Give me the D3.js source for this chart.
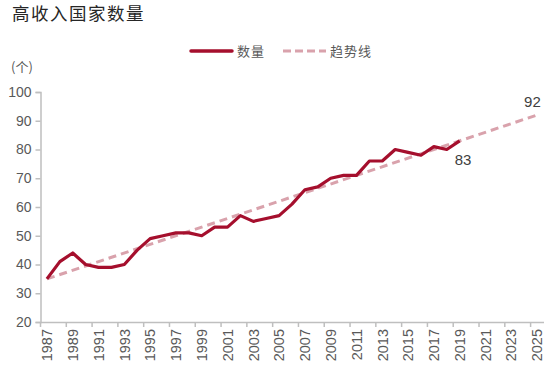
<!DOCTYPE html>
<html>
<head>
<meta charset="utf-8">
<script src="https://cdn.jsdelivr.net/npm/d3@7/dist/d3.min.js"></script>
<style>
  html, body { margin: 0; padding: 0; background: #ffffff; }
  svg { display: block; }
</style>
</head>
<body>
<svg id="chart" width="550" height="366"></svg>
<script>
// ---- data ----
const years = d3.range(1987, 2026); // category axis 1987..2025
const countYears = d3.range(1987, 2020);
const countValues = [35, 41, 44, 40, 39, 39, 40, 45, 49, 50, 51, 51, 50, 53, 53, 57, 55, 56, 57, 61, 66, 67, 70, 71, 71, 76, 76, 80, 79, 78, 81, 80, 83];
const trendYears = [1987, 2025];
const trendValues = [35, 92];
const yTicks = [20, 30, 40, 50, 60, 70, 80, 90, 100];
const xTickLabels = years.filter((d, i) => i % 2 === 0);
const seriesNames = ["数量", "趋势线"];
const titleText = "高收入国家数量";
const unitText = "(个)";

// ---- layout ----
const svg = d3.select("#chart");
const fontNum = "Liberation Sans, Arial, sans-serif";
const fontCJK = "'Noto Sans CJK SC', sans-serif";
const axisColor = "#bfbfbf";
const labelColor = "#595959";
const lineColor = "#a50f2d";
const trendColor = "#d9a2ac";

const x = d3.scaleBand().domain(years).range([40.5, 543.5]).padding(0);
const cx = d => x(d) + x.bandwidth() / 2;
const y = d3.scaleLinear().domain([20, 100]).range([322, 92]);

// title
svg.append("text").attr("x", 12).attr("y", 20)
  .attr("font-family", fontCJK).attr("font-size", 17.5).attr("fill", "#262626")
  .attr("letter-spacing", 1.5)
  .text(titleText);

// unit
svg.append("text").attr("x", 11).attr("y", 72)
  .attr("font-family", fontCJK).attr("font-size", 13).attr("fill", labelColor)
  .text(unitText);

// y axis
const yAxis = svg.append("g").attr("transform", "translate(40.5,0)")
  .call(d3.axisLeft(y).tickValues(yTicks).tickSize(5).tickPadding(4));
yAxis.select(".domain").attr("stroke", axisColor).attr("stroke-width", 1.5);
yAxis.selectAll(".tick line").attr("stroke", axisColor).attr("stroke-width", 1.5);
yAxis.selectAll(".tick text").attr("font-family", fontNum).attr("font-size", 14).attr("fill", labelColor);

// x axis
const xAxis = svg.append("g").attr("transform", "translate(0,322)")
  .call(d3.axisBottom(x).tickValues(xTickLabels).tickSizeInner(0).tickSizeOuter(0).tickPadding(0));
xAxis.select(".domain").attr("stroke", axisColor).attr("stroke-width", 1.5);
xAxis.selectAll(".tick line").remove();
xAxis.selectAll(".tick text")
  .attr("font-family", fontNum).attr("font-size", 14.5).attr("fill", labelColor)
  .attr("text-anchor", "end")
  .attr("transform", "translate(0,7) rotate(-90)")
  .attr("x", 0).attr("y", 0).attr("dy", "0.36em");
// tick marks at category boundaries every two years
svg.append("g").selectAll("line").data(xTickLabels).join("line")
  .attr("x1", d => x(d)).attr("x2", d => x(d))
  .attr("y1", 322).attr("y2", 327)
  .attr("stroke", axisColor).attr("stroke-width", 1.5);

// trend line
const trendLine = d3.line().x(d => cx(d[0])).y(d => y(d[1]));
svg.append("path")
  .datum(trendYears.map((d, i) => [d, trendValues[i]]))
  .attr("d", trendLine)
  .attr("fill", "none").attr("stroke", trendColor).attr("stroke-width", 3)
  .attr("stroke-dasharray", "8,5");

// count line
const countLine = d3.line().x(d => cx(d[0])).y(d => y(d[1]));
svg.append("path")
  .datum(countYears.map((d, i) => [d, countValues[i]]))
  .attr("d", countLine)
  .attr("fill", "none").attr("stroke", lineColor).attr("stroke-width", 3.2)
  .attr("stroke-linejoin", "round");

// data labels
const lastCount = countValues[countValues.length - 1];
const lastCountYear = countYears[countYears.length - 1];
svg.append("text")
  .attr("x", cx(lastCountYear) - 5).attr("y", y(lastCount) + 24)
  .attr("font-family", fontNum).attr("font-size", 15).attr("fill", "#404040")
  .text(lastCount);
const lastTrend = trendValues[trendValues.length - 1];
const lastTrendYear = trendYears[trendYears.length - 1];
svg.append("text")
  .attr("x", cx(lastTrendYear) - 13).attr("y", y(lastTrend) - 8)
  .attr("font-family", fontNum).attr("font-size", 15).attr("fill", "#404040")
  .text(lastTrend);

// legend
const legend = svg.append("g");
legend.append("line").attr("x1", 191).attr("x2", 232).attr("y1", 51).attr("y2", 51)
  .attr("stroke", lineColor).attr("stroke-width", 3.5).attr("stroke-linecap", "round");
legend.append("text").attr("x", 237).attr("y", 56)
  .attr("font-family", fontCJK).attr("font-size", 13).attr("fill", labelColor)
  .attr("letter-spacing", 1)
  .text(seriesNames[0]);
legend.append("line").attr("x1", 283).attr("x2", 326).attr("y1", 51).attr("y2", 51)
  .attr("stroke", trendColor).attr("stroke-width", 3).attr("stroke-dasharray", "8,4");
legend.append("text").attr("x", 330).attr("y", 56)
  .attr("font-family", fontCJK).attr("font-size", 13).attr("fill", labelColor)
  .attr("letter-spacing", 1)
  .text(seriesNames[1]);
</script>
</body>
</html>
